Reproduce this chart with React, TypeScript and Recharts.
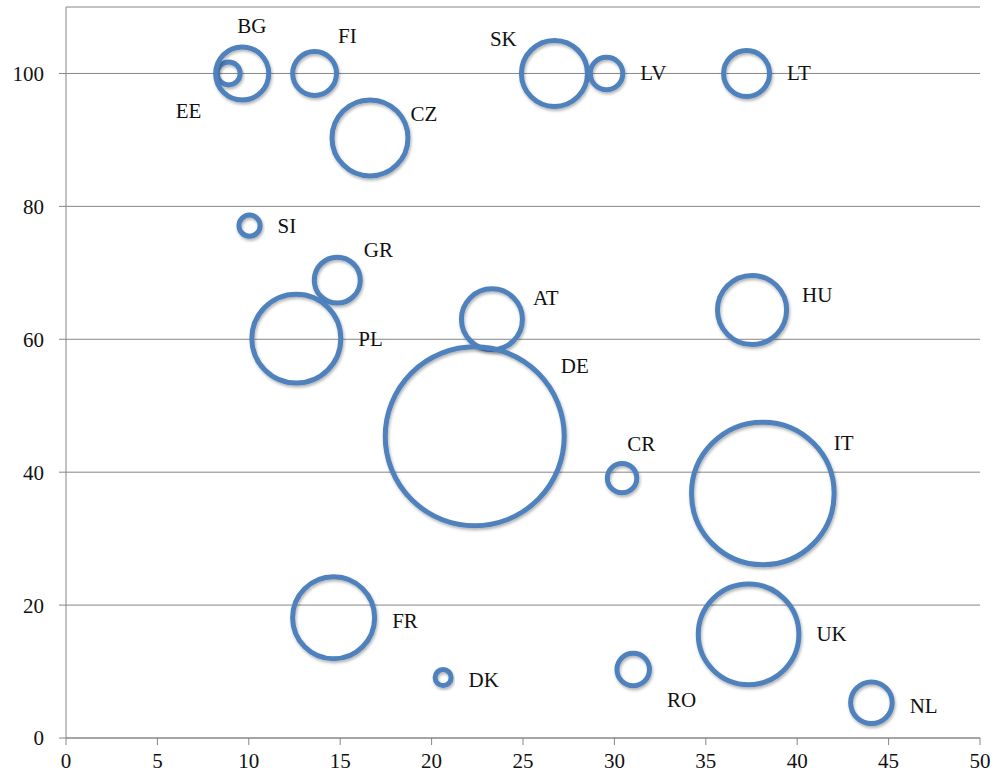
import React from "react";
import { ScatterChart, Scatter, XAxis, YAxis, ZAxis, CartesianGrid } from "recharts";

const COUNTRIES = ["EE", "BG", "FI", "CZ", "SK", "LV", "LT", "SI", "GR", "PL", "AT", "HU", "DE", "CR", "IT", "FR", "DK", "RO", "UK", "NL"];
const X_VALUES = [8.9, 9.64, 13.6, 16.63, 26.72, 29.57, 37.23, 10.04, 14.84, 12.6, 23.3, 37.53, 22.36, 30.42, 38.12, 14.64, 20.63, 31.03, 37.34, 44.06];
const Y_VALUES = [100, 100, 100, 90.3, 100, 100, 100, 77.1, 68.9, 60.1, 63.0, 64.4, 45.4, 39.1, 36.8, 18.1, 9.1, 10.3, 15.6, 5.3];
const SIZES = [1.65, 8.8, 6.0, 18.0, 13.6, 3.3, 6.6, 1.4, 6.6, 24.7, 11.6, 14.9, 100, 2.7, 63.5, 21.0, 0.8, 3.3, 31.6, 5.4];
const X_TICKS = [0, 5, 10, 15, 20, 25, 30, 35, 40, 45, 50];
const Y_TICKS = [0, 20, 40, 60, 80, 100];

const data = COUNTRIES.map((name, i) => ({ name, x: X_VALUES[i], y: Y_VALUES[i], z: SIZES[i] }));

// labels sit to the right of each bubble; a few were dragged elsewhere
const LABEL_NUDGE: Record<string, [number, number]> = {
  BG: [-49, -47],
  EE: [-82, 38],
  FI: [-16, -37],
  CZ: [-15, -24],
  SK: [-115, -34],
  GR: [-14, -30],
  AT: [-7, -21],
  HU: [-2, -15],
  DE: [-21, -70],
  CR: [-27, -34],
  IT: [-18, -50],
  RO: [0, 30],
  FR: [0, 3],
  DK: [0, 2],
  NL: [0, 3],
};

const BLUE = "#4F81BD";
const AXIS = "#868686";
const FONT = "'Liberation Serif', 'Times New Roman', serif";
const STROKE = 5;
const MAX_R = 89.5;

const Bubble = (props: any) => {
  const { cx, cy, width, payload } = props;
  const r = width / 2;
  const [dx, dy] = LABEL_NUDGE[payload.name] || [0, 0];
  return (
    <g>
      <circle
        cx={cx}
        cy={cy}
        r={r}
        fill="none"
        stroke={BLUE}
        strokeWidth={STROKE}
        filter="url(#bubbleShadow)"
      />
      <text
        x={cx + r + STROKE / 2 + 15 + dx}
        y={cy + dy}
        textAnchor="start"
        dominantBaseline="central"
        fontFamily={FONT}
        fontSize={21}
        fill="#111"
      >
        {payload.name}
      </text>
    </g>
  );
};

export default function App() {
  return (
    <div style={{ position: "absolute", left: 0, top: 0, width: 995, height: 778, background: "#fff" }}>
      <svg width={0} height={0} style={{ position: "absolute" }}>
        <defs>
          <filter id="bubbleShadow" x="-20%" y="-20%" width="140%" height="150%">
            <feDropShadow dx="1" dy="2" stdDeviation="1.5" floodColor="#000" floodOpacity="0.3" />
          </filter>
        </defs>
      </svg>
      <ScatterChart width={995} height={778} margin={{ top: 7, right: 15, bottom: 0, left: 0 }}>
        <CartesianGrid vertical={false} stroke={AXIS} strokeWidth={1} />
        <XAxis
          type="number"
          dataKey="x"
          domain={[0, 50]}
          ticks={X_TICKS}
          interval={0}
          height={40}
          stroke={AXIS}
          tickSize={7}
          tickMargin={8}
          tick={{ fill: "#111", fontSize: 21, fontFamily: FONT }}
          allowDataOverflow
        />
        <YAxis
          type="number"
          dataKey="y"
          domain={[0, 110]}
          ticks={Y_TICKS}
          interval={0}
          width={66}
          stroke={AXIS}
          tickSize={7}
          tickMargin={15}
          tick={{ fill: "#111", fontSize: 21, fontFamily: FONT }}
          allowDataOverflow
        />
        <ZAxis type="number" dataKey="z" domain={[0, 100]} range={[0, Math.PI * MAX_R * MAX_R]} />
        <Scatter data={data} shape={<Bubble />} isAnimationActive={false} />
      </ScatterChart>
    </div>
  );
}
